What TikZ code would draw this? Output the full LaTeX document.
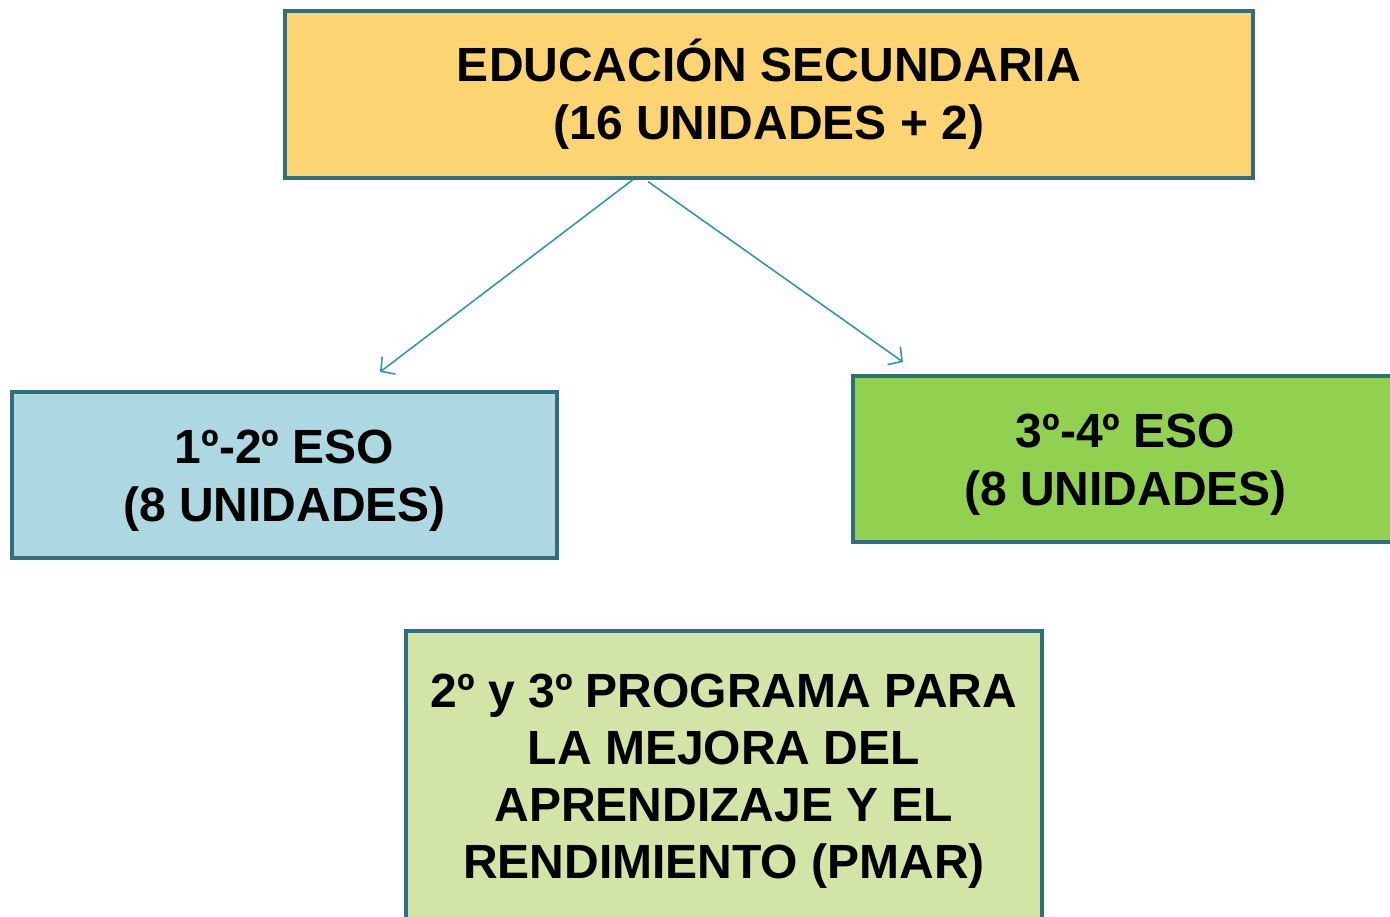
\documentclass[tikz,border=0pt]{standalone}
\usepackage{fontspec}
\setmainfont{Liberation Sans}
\usetikzlibrary{positioning,arrows.meta}

\definecolor{frameTeal}{HTML}{2F6E7D}
\definecolor{arrowTeal}{HTML}{3A93A6}
\definecolor{fillGold}{HTML}{FDD472}
\definecolor{fillBlue}{HTML}{ADD8E2}
\definecolor{fillGreen}{HTML}{92D050}
\definecolor{fillPale}{HTML}{D3E4A7}

\begin{document}
\begin{tikzpicture}[x=0.5pt,y=-0.5pt]
  \tikzstyle{level} = [
    % The shape:
    rectangle, inner sep=0pt,
    % The border:
    line width=1.6pt,
    draw=frameTeal,
    % Font:
    font=\fontsize{24}{29}\bfseries,
    align=center
  ];
  \tikzstyle{branch} = [
    draw = arrowTeal,
    line width=0.8pt,
    -{Straight Barb[length=5pt,width=11pt]}
  ];

  \useasboundingbox (0,0) rectangle (1390,916);
  \clip (0,0) rectangle (1390,916);

  \node [level, fill=fillGold, minimum width=484pt, minimum height=83.5pt]
        (secundaria) at (769,94.5) {EDUCACIÓN SECUNDARIA\\(16 UNIDADES + 2)};

  \node [level, fill=fillBlue, minimum width=272.5pt, minimum height=83pt]
        (primerCiclo) at (284.5,475) {\rule{0pt}{22.5pt}1º-2º ESO\\(8 UNIDADES)};
  \node [level, fill=fillGreen, minimum width=272.5pt, minimum height=83pt]
        (segundoCiclo) at (1125.5,459) {\rule{0pt}{22pt}3º-4º ESO\\(8 UNIDADES)};

  \node [level, fill=fillPale, minimum width=318pt, minimum height=145.5pt,
         font=\fontsize{24}{28.6}\bfseries]
        (pmar) at (724,776.5) {\rule{0pt}{21.5pt}2º y 3º PROGRAMA PARA\\LA MEJORA DEL\\APRENDIZAJE Y EL\\RENDIMIENTO (PMAR)};

  \coordinate (toPrimer) at (380,372);
  \coordinate (toSegundo) at (903,362);

  \path [branch] ([xshift=-68pt]secundaria.south) to (toPrimer);
  \path [branch] ([xshift=-60.5pt,yshift=-1pt]secundaria.south) to (toSegundo);
\end{tikzpicture}
\end{document}
